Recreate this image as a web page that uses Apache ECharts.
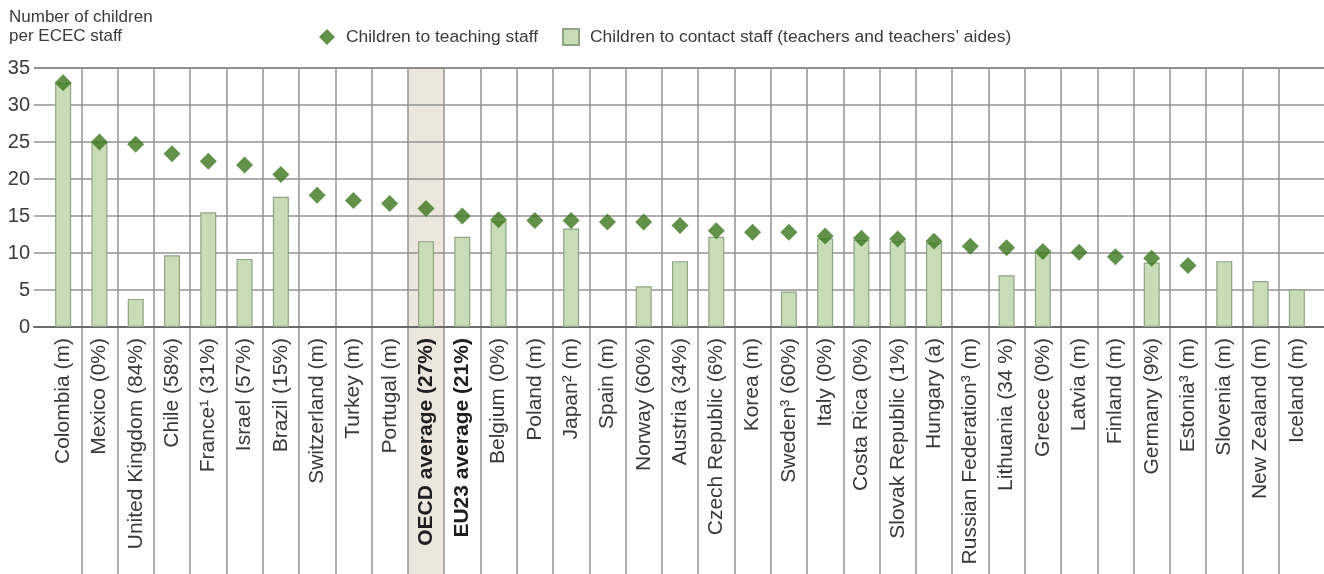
<!DOCTYPE html>
<html>
<head>
<meta charset="utf-8">
<script src="https://cdn.jsdelivr.net/npm/echarts@6/dist/echarts.min.js"></script>
<style>
  html, body { margin: 0; padding: 0; background: #fff; }
  #chart { width: 1324px; height: 574px; }
</style>
</head>
<body>
<div id="chart"></div>
<script>
// Countries in display order (sorted by children to teaching staff)
const categories = [
  'Colombia (m)', 'Mexico (0%)', 'United Kingdom (84%)', 'Chile (58%)', 'France¹ (31%)',
  'Israel (57%)', 'Brazil (15%)', 'Switzerland (m)', 'Turkey (m)', 'Portugal (m)',
  'OECD average (27%)', 'EU23 average (21%)', 'Belgium (0%)', 'Poland (m)', 'Japan² (m)',
  'Spain (m)', 'Norway (60%)', 'Austria (34%)', 'Czech Republic (6%)', 'Korea (m)',
  'Sweden³ (60%)', 'Italy (0%)', 'Costa Rica (0%)', 'Slovak Republic (1%)', 'Hungary (a)',
  'Russian Federation³ (m)', 'Lithuania (34 %)', 'Greece (0%)', 'Latvia (m)', 'Finland (m)',
  'Germany (9%)', 'Estonia³ (m)', 'Slovenia (m)', 'New Zealand (m)', 'Iceland (m)'
];

// Children to teaching staff
const teachingStaff = [
  33.0, 25.0, 24.7, 23.4, 22.4,
  21.9, 20.6, 17.8, 17.1, 16.7,
  16.0, 15.0, 14.5, 14.4, 14.4,
  14.2, 14.2, 13.7, 13.0, 12.8,
  12.8, 12.3, 12.0, 11.9, 11.6,
  10.9, 10.7, 10.2, 10.1, 9.5,
  9.3, 8.3, null, null, null
];

// Children to contact staff (teachers and teachers' aides)
const contactStaff = [
  33.0, 25.0, 3.8, 9.7, 15.5,
  9.2, 17.6, null, null, null,
  11.6, 12.2, 14.3, null, 13.3,
  null, 5.5, 8.9, 12.2, null,
  4.8, 12.0, 11.8, 11.6, 11.4,
  null, 7.0, 10.1, null, null,
  8.7, null, 8.9, 6.2, 5.1
];

const yTicks = { min: 0, max: 35, interval: 5 };

const highlighted = 'OECD average (27%)';
const FONT = 'Liberation Sans, Arial, sans-serif';
const TEXT = '#3a3a3a';
const GRID_LINE = '#939393';
const DARK_LINE = '#6a6a6a';

// Plot geometry
const PLOT_TOP = 68;
const PLOT_BOTTOM = 247;     // distance of the zero line from the bottom edge
const CAT_LEFT = 45;
const CAT_RIGHT = 9;

const chart = echarts.init(document.getElementById('chart'), null, { renderer: 'canvas' });

const option = {
  backgroundColor: '#ffffff',
  animation: false,
  textStyle: { fontFamily: FONT },
  title: {
    text: 'Number of children\nper ECEC staff',
    left: 4,
    top: 3,
    textStyle: { fontFamily: FONT, fontSize: 17, fontWeight: 'normal', color: TEXT, lineHeight: 19 }
  },
  legend: {
    left: 314,
    top: 23,
    itemWidth: 16,
    itemHeight: 16,
    itemGap: 24,
    textStyle: { fontFamily: FONT, fontSize: 17.4, color: TEXT, padding: [0, 0, 0, 6] },
    data: [
      { name: 'Children to teaching staff', icon: 'diamond' },
      { name: 'Children to contact staff (teachers and teachers\u2019 aides)', icon: 'rect' }
    ]
  },
  grid: [
    // data grid: bars, diamonds and country labels
    { left: CAT_LEFT, right: CAT_RIGHT, top: PLOT_TOP, bottom: PLOT_BOTTOM, outerBoundsMode: 'none' },
    // horizontal value lines and y tick labels
    { left: 34, right: 0, top: PLOT_TOP, bottom: PLOT_BOTTOM, outerBoundsMode: 'none' },
    // column frame: vertical separators and highlighted column, down through the label area
    { left: CAT_LEFT, right: CAT_RIGHT, top: PLOT_TOP, bottom: 0, outerBoundsMode: 'none' }
  ],
  xAxis: [
    {
      gridIndex: 0,
      type: 'category',
      data: categories,
      boundaryGap: true,
      z: 6,
      axisLine: { show: false },
      axisTick: { show: false },
      splitLine: { show: false },
      axisLabel: {
        rotate: 90,
        interval: 0,
        margin: 11,
        fontFamily: FONT,
        fontSize: 21,
        color: TEXT,
        formatter: (v) => v.indexOf('average') >= 0 ? '{b|' + v + '}' : v,
        rich: { b: { fontFamily: FONT, fontSize: 21, fontWeight: 'bold', color: '#1e1e1e' } }
      }
    },
    {
      gridIndex: 1,
      type: 'value',
      min: 0,
      max: 1,
      z: 3,
      axisLine: { show: true, onZero: false, lineStyle: { color: DARK_LINE, width: 2 } },
      axisTick: { show: false },
      axisLabel: { show: false },
      splitLine: { show: false }
    },
    {
      gridIndex: 2,
      type: 'category',
      data: categories,
      boundaryGap: true,
      z: 2,
      axisLine: { show: false },
      axisTick: { show: false },
      axisLabel: { show: false },
      splitLine: {
        show: true,
        showMinLine: false,
        showMaxLine: false,
        interval: 0,
        lineStyle: { color: GRID_LINE, width: 1.5 }
      }
    }
  ],
  yAxis: [
    { gridIndex: 0, type: 'value', min: yTicks.min, max: yTicks.max, interval: yTicks.interval, show: false },
    {
      gridIndex: 1,
      type: 'value',
      min: yTicks.min,
      max: yTicks.max,
      interval: yTicks.interval,
      z: 2,
      axisLine: { show: false },
      axisTick: { show: false },
      axisLabel: { margin: 4, fontFamily: FONT, fontSize: 20, color: TEXT },
      splitLine: {
        show: true,
        lineStyle: {
          color: [DARK_LINE, GRID_LINE, GRID_LINE, GRID_LINE, GRID_LINE, GRID_LINE, GRID_LINE, DARK_LINE],
          width: 1.5
        }
      }
    },
    { gridIndex: 2, type: 'value', min: 0, max: 1, show: false }
  ],
  series: [
    {
      // shaded background of the OECD average column
      name: 'band',
      type: 'bar',
      xAxisIndex: 2,
      yAxisIndex: 2,
      data: categories.map((c) => (c === highlighted ? 1 : null)),
      barWidth: '100%',
      silent: true,
      z: 0,
      itemStyle: { color: '#ece6dc' }
    },
    {
      name: 'Children to contact staff (teachers and teachers\u2019 aides)',
      type: 'bar',
      xAxisIndex: 0,
      yAxisIndex: 0,
      data: contactStaff,
      barWidth: 16,
      z: 4,
      itemStyle: { color: '#c8dcb8', borderColor: '#8ea582', borderWidth: 1.2 }
    },
    {
      name: 'Children to teaching staff',
      type: 'scatter',
      xAxisIndex: 0,
      yAxisIndex: 0,
      data: teachingStaff,
      symbol: 'diamond',
      symbolSize: [17, 17],
      z: 5,
      itemStyle: { color: '#3b771c' }
    }
  ]
};

chart.setOption(option);
</script>
</body>
</html>
